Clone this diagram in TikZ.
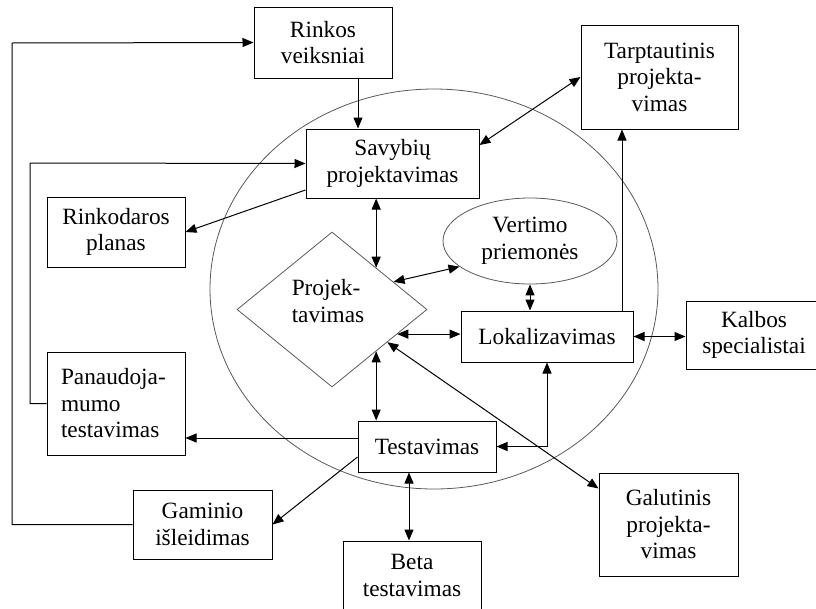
\documentclass[tikz,border=0pt]{standalone}
\usepackage{fontspec}
\setmainfont{Liberation Serif}
\usetikzlibrary{shapes.geometric, arrows.meta, calc}

\begin{document}
\begin{tikzpicture}[x=1pt, y=-1pt,
  every node/.style={font=\fontsize{23.3}{26.5}\selectfont, inner sep=0pt},
  box/.style={draw=black, line width=1pt, align=center},
  thin/.style={draw=black!65, line width=0.8pt},
  tip/.tip={Triangle[length=11pt, width=9pt]},
  conn/.style={line width=1pt, -tip},
  bi/.style={line width=1pt, tip-tip}]

\useasboundingbox (0,0) rectangle (816,608);
\clip (0,0) rectangle (816,608);

% the large ring around the core activities
\node[thin, ellipse, minimum width=448pt, minimum height=400pt] (ring) at (434,289) {};

% boxes
\node[box, minimum width=138pt, minimum height=71pt]  (rinkos) at (323,42.5)   {Rinkos\\veiksniai};
\node[box, minimum width=173pt, minimum height=69pt]  (savyb)  at (392.5,163.5) {Savybių\\projektavimas};
\node[box, minimum width=157pt, minimum height=104pt] (tarpt)  at (659.5,77)   {Tarptautinis\\projekta-\\vimas};
\node[box, minimum width=138pt, minimum height=70pt]  (rinkod) at (116,232)    {Rinkodaros\\planas};
\node[thin, ellipse, minimum width=174pt, minimum height=86pt, align=center] (vert) at (530,241) {Vertimo\\priemonės};
\node[thin, diamond, minimum width=190pt, minimum height=155pt] (dia) at (332,309.5) {};
\node[align=left] (diatext) at (328,301) {Projek-\\tavimas};
\node[box, minimum width=172pt, minimum height=51pt]  (lokal)  at (547,336.5)  {Lokalizavimas};
\node[box, minimum width=136pt, minimum height=68pt]  (kalbos) at (754,335)    {Kalbos\\specialistai};
\node[box, minimum width=138pt, minimum height=103pt, text width=110pt, align=left] (panaud) at (116,403.5) {Panaudoja-\\mumo\\testavimas};
\node[box, minimum width=138pt, minimum height=51pt]  (testav) at (427,446.5)  {Testavimas};
\node[box, minimum width=139pt, minimum height=69pt]  (gamin)  at (202.5,524.5) {Gaminio\\išleidimas};
\node[box, minimum width=138pt, minimum height=69pt]  (beta)   at (412,575.5)  {Beta\\testavimas};
\node[box, minimum width=139pt, minimum height=103pt] (galut)  at (668.5,524.5) {Galutinis\\projekta-\\vimas};

% points on the diamond border
\coordinate (dUR1) at ($(dia.north)!0.463!(dia.east)$);
\coordinate (dUR2) at ($(dia.north)!0.645!(dia.east)$);
\coordinate (dLR1) at ($(dia.east)!0.316!(dia.south)$);
\coordinate (dLR2) at ($(dia.east)!0.42!(dia.south)$);
\coordinate (dLR3) at ($(dia.east)!0.537!(dia.south)$);

% outer feedback loops
\coordinate (loopA) at (12,43);
\coordinate (loopB) at (30,163);
\draw[conn] (gamin.west) -| (loopA) -- (rinkos.west);
\draw[conn] (panaud.west) -| (loopB) -- (savyb.west);

% connectors
\coordinate (rk) at ([xshift=35pt]rinkos.south);
\draw[conn] (rk) -- (rk |- savyb.north);
\draw[conn] ([yshift=-26.5pt]savyb.west) -- (rinkod.east);
\draw[bi] ([yshift=18.5pt]savyb.east) -- (tarpt.west);
\draw[bi] (savyb.south -| dUR1) -- (dUR1);
\draw[bi] (dUR2) -- (vert.200);
\draw[bi] (vert.south) -- (vert.south |- lokal.north);
\coordinate (lk) at ([xshift=75pt]lokal.north);
\draw[conn] (lk) -- (lk |- tarpt.south);
\draw[bi] (dLR1) -- (dLR1 -| lokal.west);
\draw[bi] (lokal.east) -- (lokal.east -| kalbos.west);
\draw[bi] (testav.east) -| (lokal.south);
\draw[bi] (dLR3) -- (dLR3 |- testav.north);
\coordinate (tw) at ([yshift=8.5pt]testav.west);
\draw[conn] (tw) -- (tw -| panaud.east);
\draw[conn] ([yshift=-10.5pt]testav.west) -- (gamin.east);
\coordinate (tb) at ([xshift=-18pt]testav.south);
\draw[bi] (tb) -- (tb |- beta.north);
\draw[bi] (dLR2) -- ([yshift=-16pt]galut.north west);

\end{tikzpicture}
\end{document}
